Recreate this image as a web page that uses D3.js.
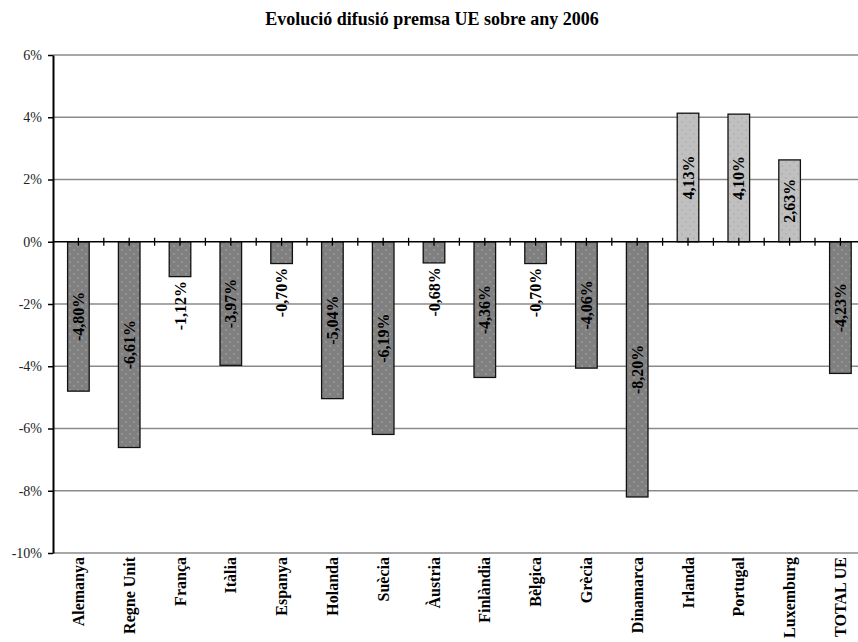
<!DOCTYPE html>
<html>
<head>
<meta charset="utf-8">
<script src="https://cdn.jsdelivr.net/npm/d3@7"></script>
<style>
  html, body { margin: 0; padding: 0; background: #fff; }
  svg { display: block; }
</style>
</head>
<body>
<div id="chart"></div>
<script>
// Variation in EU press circulation relative to 2006 (%)
const categories = ["Alemanya", "Regne Unit", "França", "Itàlia", "Espanya", "Holanda", "Suècia",
  "Àustria", "Finlàndia", "Bèlgica", "Grècia", "Dinamarca", "Irlanda", "Portugal", "Luxemburg", "TOTAL UE"];
const values = [-4.80, -6.61, -1.12, -3.97, -0.70, -5.04, -6.19, -0.68, -4.36, -0.70, -4.06, -8.20,
  4.13, 4.10, 2.63, -4.23];
const yTicks = [6, 4, 2, 0, -2, -4, -6, -8, -10];
const title = "Evolució difusió premsa UE sobre any 2006";

const width = 858, height = 642;
const margin = { top: 55, left: 53, bottom: 89 };
const step = 50.8;
const serif = "'Liberation Serif', 'Times New Roman', serif";

const svg = d3.select("#chart").append("svg")
  .attr("width", width).attr("height", height)
  .style("font-family", serif);

// dotted fills for the bars
const defs = svg.append("defs");
function dotPattern(id, bg, dot) {
  const p = defs.append("pattern").attr("id", id)
    .attr("patternUnits", "userSpaceOnUse").attr("width", 8).attr("height", 8);
  p.append("rect").attr("width", 8).attr("height", 8).attr("fill", bg);
  p.append("circle").attr("cx", 2).attr("cy", 2).attr("r", 0.7).attr("fill", dot);
  p.append("circle").attr("cx", 6).attr("cy", 6).attr("r", 0.7).attr("fill", dot);
}
dotPattern("dotsDark", "#808080", "#b4b4b4");
dotPattern("dotsLight", "#c0c0c0", "#a0a0a0");

const x = d3.scaleBand()
  .domain(categories)
  .range([margin.left, margin.left + step * categories.length])
  .paddingInner(0.575)
  .paddingOuter(0.2875);

const y = d3.scaleLinear()
  .domain([-10, 6])
  .range([height - margin.bottom, margin.top]);

// title
svg.append("text")
  .attr("x", 432).attr("y", 25)
  .attr("text-anchor", "middle")
  .attr("font-weight", "bold")
  .attr("font-size", 18)
  .text(title);

// horizontal gridlines
svg.append("g").selectAll("line")
  .data(yTicks.filter(t => t !== 0))
  .join("line")
  .attr("x1", margin.left).attr("x2", width)
  .attr("y1", d => y(d)).attr("y2", d => y(d))
  .attr("stroke", "#8a8a8a").attr("stroke-width", 1.5);

// y axis
const yAxis = svg.append("g")
  .attr("transform", `translate(${margin.left},0)`)
  .call(d3.axisLeft(y).tickValues(yTicks).tickSize(5).tickSizeOuter(0)
    .tickFormat(d => d + "%"));
yAxis.select(".domain").attr("stroke", "#000").attr("stroke-width", 2);
yAxis.selectAll(".tick line").attr("stroke", "#000").attr("stroke-width", 1.5);
yAxis.selectAll(".tick text")
  .attr("font-family", serif)
  .attr("font-size", 14).attr("fill", "#222").attr("x", -11);

// bars
const bw = x.bandwidth();
svg.append("g").selectAll("rect")
  .data(values)
  .join("rect")
  .attr("x", (d, i) => x(categories[i]))
  .attr("width", bw)
  .attr("y", d => y(Math.max(0, d)))
  .attr("height", d => Math.abs(y(d) - y(0)))
  .attr("fill", d => d >= 0 ? "url(#dotsLight)" : "url(#dotsDark)")
  .attr("stroke", "#111").attr("stroke-width", 1.3);

// zero line with cross ticks at band centres and boundaries
svg.append("line")
  .attr("x1", margin.left).attr("x2", width)
  .attr("y1", y(0)).attr("y2", y(0))
  .attr("stroke", "#000").attr("stroke-width", 1.5);
const tickXs = [];
categories.forEach(c => {
  tickXs.push(x(c) + bw / 2);
  tickXs.push(x(c) + bw / 2 + step / 2);
});
svg.append("g").selectAll("line")
  .data(tickXs)
  .join("line")
  .attr("x1", d => d).attr("x2", d => d)
  .attr("y1", y(0) - 4).attr("y2", y(0) + 4)
  .attr("stroke", "#000").attr("stroke-width", 1.3);

// value labels, rotated, centred on each bar (or just past short bars)
const fmt = v => v.toFixed(2).replace(".", ",") + "%";
const labelLen = 48;
svg.append("g").selectAll("text")
  .data(values)
  .join("text")
  .attr("transform", (d, i) => {
    const cx = x(categories[i]) + bw / 2;
    const len = Math.abs(y(d) - y(0));
    let cy;
    if (len >= labelLen) cy = (y(d) + y(0)) / 2;
    else cy = d < 0 ? y(d) + 5 + labelLen / 2 : y(d) - 5 - labelLen / 2;
    return `translate(${cx},${cy}) rotate(-90)`;
  })
  .attr("text-anchor", "middle")
  .attr("dominant-baseline", "central")
  .attr("font-weight", "bold")
  .attr("font-size", 16)
  .attr("fill", "#000")
  .text(d => fmt(d));

// category labels
svg.append("g").selectAll("text")
  .data(categories)
  .join("text")
  .attr("transform", c => `translate(${x(c) + bw / 2},${y(-10) + 4}) rotate(-90)`)
  .attr("text-anchor", "end")
  .attr("dominant-baseline", "central")
  .attr("font-weight", "bold")
  .attr("font-size", 16)
  .attr("fill", "#000")
  .text(c => c);
</script>
</body>
</html>
